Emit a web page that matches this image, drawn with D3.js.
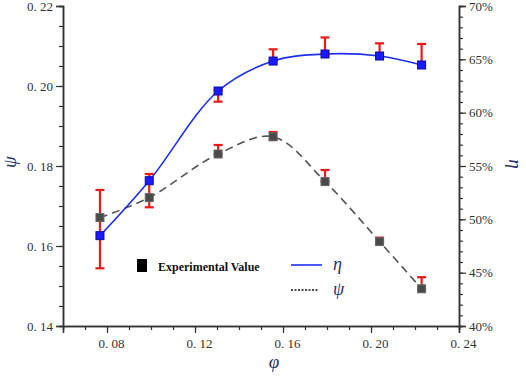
<!DOCTYPE html>
<html lang="en">
<head>
<meta charset="UTF-8">
<title>eta psi vs phi</title>
<script src="https://cdn.jsdelivr.net/npm/d3@7"></script>
<style>
  body { margin: 0; background: #fff; }
  svg { display: block; }
</style>
</head>
<body>
<div id="app"></div>
<script>
// data
var phi        = [0.0768, 0.0992, 0.1305, 0.1555, 0.1791, 0.2039, 0.2230];
var eta        = [0.4847, 0.5362, 0.6203, 0.6484, 0.6550, 0.6531, 0.6447];
var psi        = [0.1671, 0.1721, 0.1830, 0.1873, 0.1761, 0.1611, 0.1493];
var etaErrHigh = [0.5275, 0.5425, 0.6213, 0.6594, 0.6705, 0.6650, 0.6644];
var etaErrLow  = [0.4541, 0.5113, 0.6103, 0.6484, 0.6550, 0.6531, 0.6447];
var psiErrHigh = [null, null, 0.18525, 0.1885, 0.1790, 0.1621, 0.1522];
var psiErrLow  = [null, null, 0.1830, 0.1866, 0.1761, 0.1611, 0.1493];

var xTicks = [0.08, 0.12, 0.16, 0.20, 0.24];
var xTickLabels = ["0. 08", "0. 12", "0. 16", "0. 20", "0. 24"];
var leftTicks = [0.14, 0.16, 0.18, 0.20, 0.22];
var leftTickLabels = ["0. 14", "0. 16", "0. 18", "0. 20", "0. 22"];
var rightTicks = [0.40, 0.45, 0.50, 0.55, 0.60, 0.65, 0.70];
var rightTickLabels = ["40%", "45%", "50%", "55%", "60%", "65%", "70%"];

var width = 526, height = 376;
var plotLeft = 63, plotRight = 459, plotTop = 6, plotBottom = 326;

var svg = d3.select("#app").append("svg")
  .attr("width", width).attr("height", height);

var x = d3.scaleLinear().domain([0.06, 0.24]).range([plotLeft, plotRight]);
var yL = d3.scaleLinear().domain([0.14, 0.22]).range([plotBottom, plotTop]);
var yR = d3.scaleLinear().domain([0.40, 0.70]).range([plotBottom, plotTop]);

var axisColor = "#333";
var labelFont = "Liberation Serif, Times New Roman, serif";

function styleAxis(g) {
  g.attr("font-family", labelFont).attr("font-size", 13);
  g.select(".domain").attr("stroke", axisColor).attr("stroke-width", 1.5);
  g.selectAll(".tick line").attr("stroke", axisColor).attr("stroke-width", 1.2);
  g.selectAll(".tick text").attr("fill", "#333")
    .style("font-family", labelFont).attr("font-size", 13);
}

// minor ticks first
svg.append("g").attr("transform", "translate(0," + plotBottom + ")")
  .call(d3.axisBottom(x).tickValues(d3.range(0.06, 0.2401, 0.01)).tickSize(4).tickFormat(""))
  .call(styleAxis);
svg.append("g").attr("transform", "translate(" + plotLeft + ",0)")
  .call(d3.axisLeft(yL).tickValues(d3.range(0.14, 0.2201, 0.005)).tickSize(4).tickFormat(""))
  .call(styleAxis);
svg.append("g").attr("transform", "translate(" + plotRight + ",0)")
  .call(d3.axisRight(yR).tickValues(d3.range(0.40, 0.7001, 0.01)).tickSize(4).tickFormat(""))
  .call(styleAxis);

// major ticks + labels
svg.append("g").attr("transform", "translate(0," + plotBottom + ")")
  .call(d3.axisBottom(x).tickValues(xTicks).tickSize(7).tickPadding(6)
    .tickFormat(function (d, i) { return xTickLabels[i]; }))
  .call(styleAxis)
  .selectAll(".tick text").attr("dx", 4);
svg.append("g").attr("transform", "translate(" + plotLeft + ",0)")
  .call(d3.axisLeft(yL).tickValues(leftTicks).tickSize(7).tickPadding(3)
    .tickFormat(function (d, i) { return leftTickLabels[i]; }))
  .call(styleAxis);
svg.append("g").attr("transform", "translate(" + plotRight + ",0)")
  .call(d3.axisRight(yR).tickValues(rightTicks).tickSize(7).tickPadding(3)
    .tickFormat(function (d, i) { return rightTickLabels[i]; }))
  .call(styleAxis);

// axis titles
var titleColor = "#27336b";
svg.append("text").attr("transform", "translate(9,162) rotate(-90)")
  .attr("text-anchor", "middle").attr("dy", "0.35em")
  .attr("font-family", labelFont).attr("font-style", "italic").attr("font-size", 19)
  .attr("fill", titleColor).text("ψ");
svg.append("text").attr("transform", "translate(516,164) rotate(90)")
  .attr("text-anchor", "middle").attr("dy", "0.35em")
  .attr("font-family", labelFont).attr("font-style", "italic").attr("font-size", 19)
  .attr("fill", titleColor).text("η");
svg.append("text").attr("x", 274).attr("y", 368)
  .attr("text-anchor", "middle")
  .attr("font-family", labelFont).attr("font-style", "italic").attr("font-size", 19)
  .attr("fill", titleColor).text("φ");

// curves
var idx = d3.range(phi.length);
var psiLine = d3.line().curve(d3.curveCatmullRom.alpha(0.5))
  .x(function (i) { return x(phi[i]); })
  .y(function (i) { return yL(psi[i]); });
var etaLine = d3.line().curve(d3.curveCatmullRom.alpha(0.5))
  .x(function (i) { return x(phi[i]); })
  .y(function (i) { return yR(eta[i]); });

svg.append("path").attr("d", psiLine(idx))
  .attr("fill", "none").attr("stroke", "#555").attr("stroke-width", 1.6)
  .attr("stroke-dasharray", "8,5");
svg.append("path").attr("d", etaLine(idx))
  .attr("fill", "none").attr("stroke", "#1f2fef").attr("stroke-width", 1.6);

// error bars
var red = "#f01818";
function errorBar(cx, y1, y2) {
  var g = svg.append("g").attr("stroke", red).attr("stroke-width", 2.2);
  g.append("line").attr("x1", cx).attr("x2", cx).attr("y1", y1).attr("y2", y2);
  g.append("line").attr("x1", cx - 4.5).attr("x2", cx + 4.5).attr("y1", y1).attr("y2", y1);
  g.append("line").attr("x1", cx - 4.5).attr("x2", cx + 4.5).attr("y1", y2).attr("y2", y2);
}
idx.forEach(function (i) {
  errorBar(x(phi[i]), yR(etaErrHigh[i]), yR(etaErrLow[i]));
  if (psiErrHigh[i] != null) errorBar(x(phi[i]), yL(psiErrHigh[i]), yL(psiErrLow[i]));
});

// markers
svg.selectAll(".psiPt").data(idx).enter().append("rect")
  .attr("class", "psiPt")
  .attr("x", function (i) { return x(phi[i]) - 4; })
  .attr("y", function (i) { return yL(psi[i]) - 4; })
  .attr("width", 8).attr("height", 8)
  .attr("fill", "#4a4a4a").attr("stroke", "#666").attr("stroke-width", 1);
svg.selectAll(".etaPt").data(idx).enter().append("rect")
  .attr("class", "etaPt")
  .attr("x", function (i) { return x(phi[i]) - 4; })
  .attr("y", function (i) { return yR(eta[i]) - 4; })
  .attr("width", 8).attr("height", 8)
  .attr("fill", "#1a1aff").attr("stroke", "#0a0aa8").attr("stroke-width", 1);

// legend
var lg = svg.append("g");
lg.append("rect").attr("x", 137).attr("y", 259).attr("width", 10).attr("height", 13).attr("fill", "#000");
lg.append("text").attr("x", 158).attr("y", 271).attr("font-family", labelFont)
  .attr("font-weight", "bold").attr("font-size", 12).attr("fill", "#111").text("Experimental Value");
lg.append("line").attr("x1", 291).attr("x2", 322).attr("y1", 265).attr("y2", 265)
  .attr("stroke", "#1f2fef").attr("stroke-width", 1.6);
lg.append("text").attr("x", 333).attr("y", 270).attr("font-family", labelFont)
  .attr("font-style", "italic").attr("font-size", 18).attr("fill", titleColor).text("η");
lg.append("line").attr("x1", 291).attr("x2", 319).attr("y1", 290).attr("y2", 290)
  .attr("stroke", "#111").attr("stroke-width", 1.5).attr("stroke-dasharray", "2,1.5");
lg.append("text").attr("x", 333).attr("y", 295).attr("font-family", labelFont)
  .attr("font-style", "italic").attr("font-size", 18).attr("fill", titleColor).text("ψ");
</script>
</body>
</html>
